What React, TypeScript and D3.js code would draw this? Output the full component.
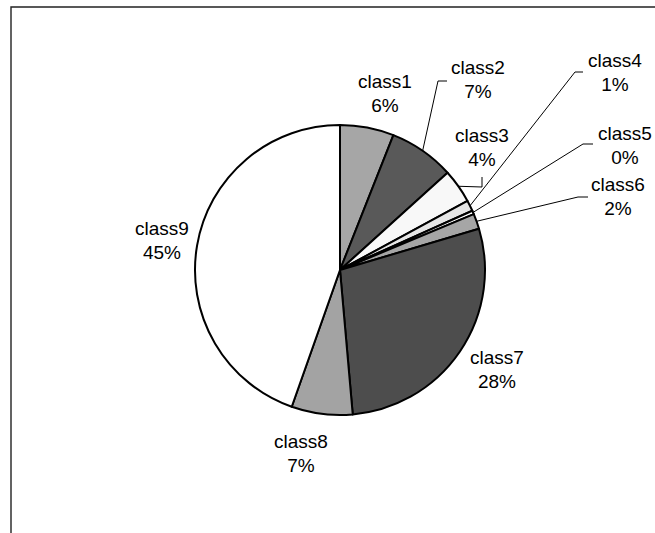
import React, { useEffect, useRef } from "react";
import * as d3 from "d3";

// pie data
const categories = ["class1", "class2", "class3", "class4", "class5", "class6", "class7", "class8", "class9"];
const values = [6.0, 7.3, 3.8, 1.2, 0.4, 1.7, 28.2, 6.8, 44.6];
const fills = ["#a6a6a6", "#595959", "#f8f8f8", "#e6e6e6", "#ffffff", "#a6a6a6", "#4d4d4d", "#a3a3a3", "#ffffff"];

// label layout (center x, center y of first line) and leader elbows
const labelPos: [number, number][] = [
  [385, 81], [478, 67], [482, 135], [615, 60], [625, 133], [618, 184], [497, 357], [301, 441], [162, 228],
];
const leaders: ([number, number][] | null)[] = [
  null,
  [[438, 81], [447, 81]],
  [[482, 187], [482, 177]],
  [[575, 72], [583, 72]],
  [[583, 144], [593, 144]],
  [[578, 197], [588, 197]],
  null,
  null,
  null,
];

const App = () => {
  const ref = useRef<SVGSVGElement>(null);

  useEffect(() => {
    const svg = d3.select(ref.current);
    svg.selectAll("*").remove();

    const cx = 340;
    const cy = 270;
    const r = 145;
    const total = d3.sum(values);

    // frame (only top and left edges are visible in the window)
    svg.append("path")
      .attr("d", "M11,540 L11,7 L660,7")
      .attr("fill", "none")
      .attr("stroke", "#222")
      .attr("stroke-width", 1.4);

    const pie = d3.pie<number>().sort(null).value(d => d);
    const arcs = pie(values);
    const arc = d3.arc<d3.PieArcDatum<number>>().innerRadius(0).outerRadius(r);

    const g = svg.append("g").attr("transform", `translate(${cx},${cy})`);
    g.selectAll("path")
      .data(arcs)
      .join("path")
      .attr("d", arc)
      .attr("fill", (d, i) => fills[i])
      .attr("stroke", "#000")
      .attr("stroke-width", 2)
      .attr("stroke-linejoin", "round");

    // leader lines
    arcs.forEach((d, i) => {
      const pts = leaders[i];
      if (!pts) return;
      const a = (d.startAngle + d.endAngle) / 2;
      const start: [number, number] = [cx + r * Math.sin(a), cy - r * Math.cos(a)];
      svg.append("polyline")
        .attr("points", [start, ...pts].map(p => p.join(",")).join(" "))
        .attr("fill", "none")
        .attr("stroke", "#000")
        .attr("stroke-width", 1);
    });

    // labels
    categories.forEach((c, i) => {
      const [x, y] = labelPos[i];
      const t = svg.append("text")
        .attr("text-anchor", "middle")
        .attr("font-family", "'Liberation Sans', Arial, sans-serif")
        .attr("font-size", 19)
        .attr("fill", "#000");
      t.append("tspan").attr("x", x).attr("y", y + 7).text(c);
      t.append("tspan").attr("x", x).attr("y", y + 31).text(`${Math.round((values[i] / total) * 100)}%`);
    });
  }, []);

  return (
    <svg
      ref={ref}
      width={655}
      height={533}
      style={{ position: "absolute", left: 0, top: 0, background: "#fff" }}
    ></svg>
  );
};

export default App;
